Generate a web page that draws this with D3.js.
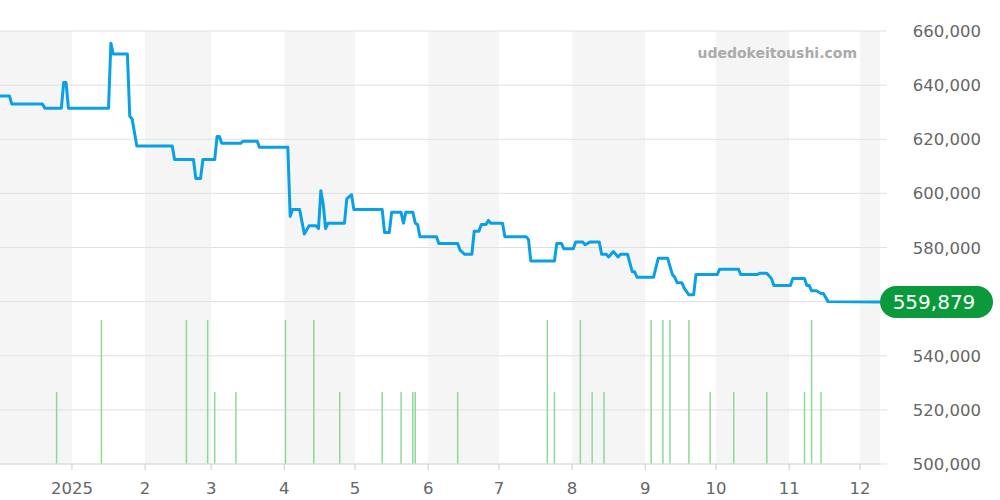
<!DOCTYPE html><html><head><meta charset="utf-8"><script src="https://cdn.jsdelivr.net/npm/d3@7"></script>
<style>body{margin:0;background:#fff}text{font-family:"DejaVu Sans",sans-serif}</style></head><body><svg id="c" width="1000" height="500"></svg>
<script>
const priceDates=["2024-12-01","2024-12-05","2024-12-06","2024-12-19","2024-12-20","2024-12-27","2024-12-28","2024-12-29","2024-12-30","2025-01-16","2025-01-17","2025-01-18","2025-01-24","2025-01-25","2025-01-26","2025-01-28","2025-02-12","2025-02-13","2025-02-21","2025-02-22","2025-02-24","2025-02-25","2025-03-02","2025-03-03","2025-03-04","2025-03-05","2025-03-13","2025-03-14","2025-03-20","2025-03-21","2025-04-02","2025-04-03","2025-04-04","2025-04-07","2025-04-09","2025-04-11","2025-04-14","2025-04-15","2025-04-16","2025-04-17","2025-04-18","2025-04-19","2025-04-26","2025-04-27","2025-04-29","2025-04-30","2025-05-12","2025-05-13","2025-05-15","2025-05-16","2025-05-20","2025-05-21","2025-05-22","2025-05-25","2025-05-26","2025-05-27","2025-05-28","2025-06-04","2025-06-05","2025-06-13","2025-06-14","2025-06-16","2025-06-19","2025-06-20","2025-06-22","2025-06-23","2025-06-25","2025-06-26","2025-06-27","2025-07-02","2025-07-03","2025-07-12","2025-07-13","2025-07-14","2025-07-24","2025-07-25","2025-07-27","2025-07-28","2025-08-01","2025-08-02","2025-08-05","2025-08-06","2025-08-08","2025-08-12","2025-08-13","2025-08-15","2025-08-16","2025-08-18","2025-08-20","2025-08-21","2025-08-24","2025-08-26","2025-08-27","2025-08-28","2025-09-04","2025-09-06","2025-09-10","2025-09-12","2025-09-13","2025-09-14","2025-09-16","2025-09-17","2025-09-19","2025-09-21","2025-09-22","2025-10-01","2025-10-02","2025-10-10","2025-10-11","2025-10-18","2025-10-19","2025-10-22","2025-10-24","2025-10-25","2025-11-01","2025-11-02","2025-11-07","2025-11-08","2025-11-09","2025-11-10","2025-11-12","2025-11-14","2025-11-15","2025-11-17","2025-12-09"];
const priceValues=[636000,636000,633000,633000,631500,631500,641000,641000,631500,631500,655500,651500,651500,628500,627500,617500,617500,612500,612500,605500,605500,612500,612500,621000,621000,618500,618500,619300,619300,617000,617000,591500,594000,594000,585000,588000,588000,587000,601000,596000,587000,589000,589000,598000,599500,594000,594000,585500,585500,593000,593000,589000,593000,593000,589000,588500,584000,584000,581500,581500,579000,577500,577500,586000,586000,588500,588500,590000,589000,589000,584000,584000,583000,575000,575000,581500,581500,579500,579500,582000,582000,581000,582000,582000,577500,577500,576500,578500,576500,577500,577500,571000,571000,569000,569000,576000,576000,570000,569000,567000,567000,565000,562500,562500,570000,570000,572000,572000,570000,570000,570500,570500,568500,566000,566000,568500,568500,566000,566000,564000,564000,563000,563000,560000,559879];
const volDates=["2024-12-25","2025-01-13","2025-02-18","2025-02-27","2025-03-02","2025-03-11","2025-04-01","2025-04-13","2025-04-24","2025-05-12","2025-05-20","2025-05-25","2025-05-26","2025-06-13","2025-07-21","2025-07-24","2025-08-04","2025-08-09","2025-08-14","2025-09-03","2025-09-08","2025-09-11","2025-09-19","2025-09-28","2025-10-08","2025-10-22","2025-11-07","2025-11-10","2025-11-14"];
const volValues=[1,2,2,2,1,1,2,2,1,1,1,1,1,1,2,1,2,1,1,2,2,2,2,1,1,1,1,2,1];
const yTicks=[500000,520000,540000,560000,580000,600000,620000,640000,660000];
const lastLabel="559,879";

const p=s=>{const [a,b,c]=s.split("-").map(Number);return new Date(a,b-1,c,12);};
const svg=d3.select("#c");
const x=d3.scaleTime().domain([new Date(2024,11,1,12),new Date(2025,11,9,12)]).range([0,880]);
const y=d3.scaleLinear().domain([500000,660000]).range([464,31]);
const yv=d3.scaleLinear().domain([0,2]).range([464,320]);
const months=d3.timeMonth.range(new Date(2024,11,1),new Date(2026,0,1));
months.forEach((m,i)=>{if(i%2===0){const x0=Math.max(0,x(m)),x1=Math.min(880,x(d3.timeMonth.offset(m,1)));svg.append("rect").attr("x",x0).attr("y",31).attr("width",x1-x0).attr("height",433).attr("fill","#f5f5f5");}});
svg.append("g").selectAll("line").data(yTicks).join("line").attr("x1",0).attr("x2",887).attr("y1",d=>y(d)).attr("y2",d=>y(d)).attr("stroke","#e0e0e0");
const ly=y(priceValues[priceValues.length-1]);
svg.append("g").selectAll("text").data(yTicks.filter(d=>Math.abs(y(d)-ly)>20)).join("text").attr("x",981).attr("y",d=>y(d)+6).attr("text-anchor","end").attr("font-size",16.5).attr("fill","#666").text(d3.format(","));
svg.append("g").selectAll("line").data(volDates).join("line").attr("x1",d=>x(p(d))).attr("x2",d=>x(p(d))).attr("y1",464).attr("y2",(d,i)=>yv(volValues[i])).attr("stroke","#90d89a").attr("stroke-width",1.5);
svg.append("line").attr("x1",0).attr("x2",880).attr("y1",464).attr("y2",464).attr("stroke","#cde8cf");
const xt=d3.timeMonth.range(new Date(2025,0,1),new Date(2025,11,2));
svg.append("g").selectAll("line").data(xt).join("line").attr("x1",d=>x(d)).attr("x2",d=>x(d)).attr("y1",464).attr("y2",470).attr("stroke","#ccc");
svg.append("g").selectAll("text").data(xt).join("text").attr("x",d=>x(d)).attr("y",494).attr("text-anchor","middle").attr("font-size",16.5).attr("fill","#666").text(d=>d.getMonth()===0?"2025":d.getMonth()+1);
const line=d3.line().x((d,i)=>x(p(d))).y((d,i)=>y(priceValues[i]));
svg.append("path").attr("d",line(priceDates)).attr("fill","none").attr("stroke","#0aa0e6").attr("stroke-width",3).attr("stroke-linejoin","round");
svg.append("text").attr("x",857).attr("y",58).attr("text-anchor","end").attr("font-size",14).attr("font-weight","bold").attr("fill","#aaa").text("udedokeitoushi.com");
svg.append("rect").attr("x",880).attr("y",ly-16).attr("width",113).attr("height",32).attr("rx",16).attr("fill","#0a9a3c");
svg.append("text").attr("x",934).attr("y",ly+7).attr("text-anchor","middle").attr("font-size",20).attr("fill","#fff").text(lastLabel);
</script></body></html>
